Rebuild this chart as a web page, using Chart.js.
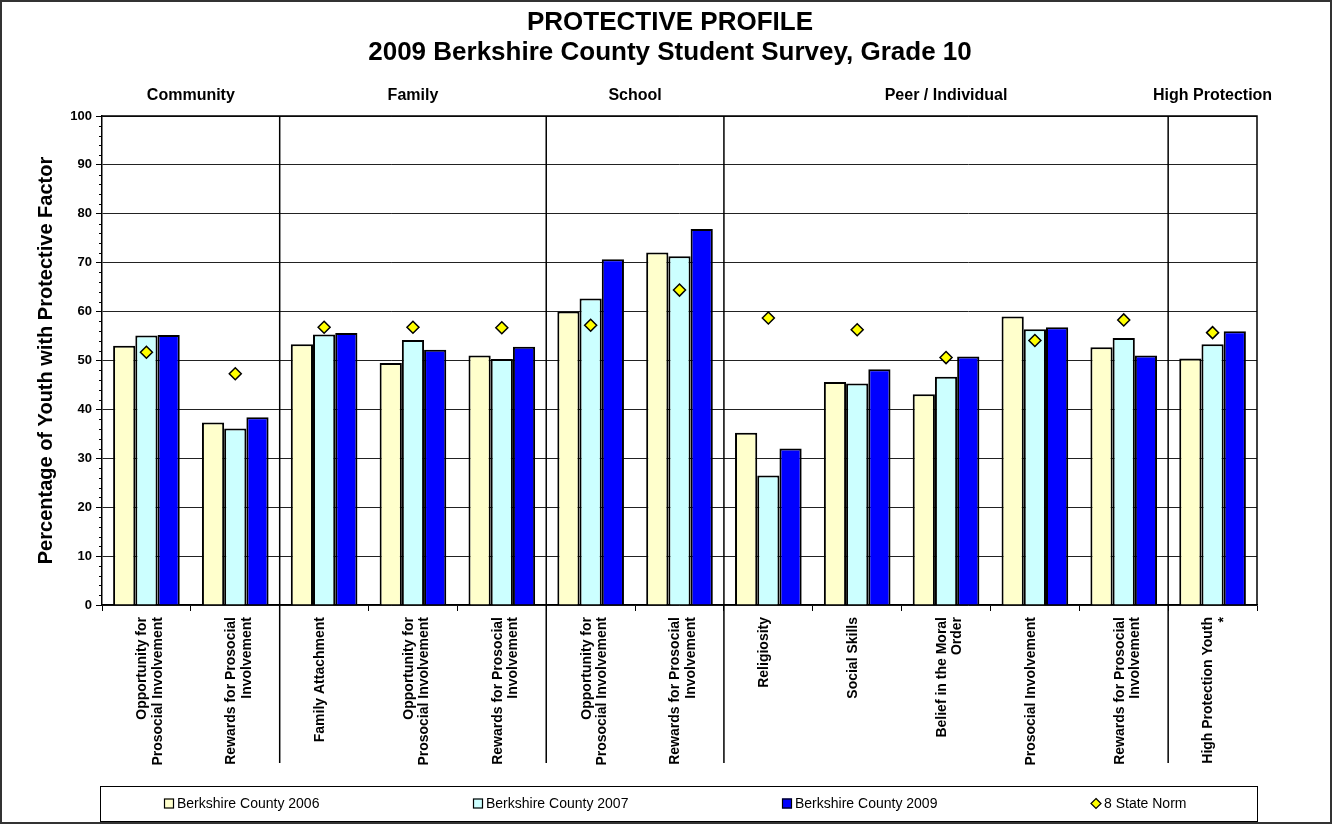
<!DOCTYPE html>
<html>
<head>
<meta charset="utf-8">
<title>Protective Profile</title>
<script src="https://cdn.jsdelivr.net/npm/chart.js@4.4.1/dist/chart.umd.min.js"></script>
<style>
  html, body { margin: 0; padding: 0; background: #fff; }
  #wrap { width: 1332px; height: 824px; }
</style>
</head>
<body>
<div id="wrap"><canvas id="myChart" width="1332" height="824"></canvas></div>
<script>
var categories = [
    ['Opportunity for', 'Prosocial Involvement'],
    ['Rewards for Prosocial', 'Involvement'],
    'Family Attachment',
    ['Opportunity for', 'Prosocial Involvement'],
    ['Rewards for Prosocial', 'Involvement'],
    ['Opportunity for', 'Prosocial Involvement'],
    ['Rewards for Prosocial', 'Involvement'],
    'Religiosity',
    'Social Skills',
    ['Belief in the Moral', 'Order'],
    'Prosocial Involvement',
    ['Rewards for Prosocial', 'Involvement'],
    ['High Protection Youth', '*']
];

var groupNames = ['Community', 'Family', 'School', 'Peer / Individual', 'High Protection'];
var groupSizes = [2, 3, 2, 5, 1];

var seriesNames = ['Berkshire County 2006', 'Berkshire County 2007', 'Berkshire County 2009', '8 State Norm'];

var county2006 = [53.0, 37.3, 53.3, 49.5, 51.0, 60.0, 72.1, 35.2, 45.6, 43.1, 59.0, 52.7, 50.4];
var county2007 = [55.1, 36.1, 55.3, 54.2, 50.3, 62.7, 71.3, 26.5, 45.3, 46.7, 56.4, 54.6, 53.3];
var county2009 = [55.2, 38.4, 55.6, 52.2, 52.8, 70.7, 76.9, 32.0, 48.2, 50.8, 56.8, 51.0, 56.0];
var stateNorm  = [51.7, 47.3, 56.8, 56.8, 56.7, 57.2, 64.4, 58.7, 56.3, 50.6, 54.1, 58.3, 55.7];

var yMin = 0, yMax = 100, yStep = 10, yMinorStep = 2;

var FONT = "'Liberation Sans', Arial, Helvetica, sans-serif";
Chart.defaults.font.family = FONT;
Chart.defaults.color = '#000';

// extra drawing: plot frame, minor ticks, group dividers + names, boxed legend, outer border
var extrasPlugin = {
    id: 'extras',
    beforeDraw: function(chart) {
        var ctx = chart.ctx;
        ctx.save();
        ctx.fillStyle = '#fff';
        ctx.fillRect(0, 0, chart.width, chart.height);
        ctx.restore();
    },
    afterDraw: function(chart) {
        var ctx = chart.ctx;
        var area = chart.chartArea;
        var xs = chart.scales.x;
        var ys = chart.scales.y;
        ctx.save();

        // minor ticks on the value axis
        ctx.strokeStyle = '#000';
        ctx.lineWidth = 1;
        for (var v = yMin; v <= yMax; v += yMinorStep) {
            if (v % yStep === 0) continue;
            var py = Math.round(ys.getPixelForValue(v)) + 0.5;
            ctx.beginPath();
            ctx.moveTo(area.left - 3, py);
            ctx.lineTo(area.left, py);
            ctx.stroke();
        }

        // top and right edges of the plot
        ctx.lineWidth = 1.5;
        ctx.beginPath();
        ctx.moveTo(area.left, area.top);
        ctx.lineTo(area.right, area.top);
        ctx.lineTo(area.right, area.bottom);
        ctx.stroke();

        // group dividers and group names
        var start = 0;
        ctx.font = 'bold 16px ' + FONT;
        ctx.textAlign = 'center';
        ctx.textBaseline = 'middle';
        ctx.fillStyle = '#000';
        var half = (xs.getPixelForValue(1) - xs.getPixelForValue(0)) / 2;
        for (var g = 0; g < groupSizes.length; g++) {
            var end = start + groupSizes[g] - 1;
            var gl = xs.getPixelForValue(start) - half;
            var gr = xs.getPixelForValue(end) + half;
            ctx.fillText(groupNames[g], (gl + gr) / 2, area.top - 20);
            if (g < groupSizes.length - 1) {
                ctx.lineWidth = 1.5;
                ctx.beginPath();
                ctx.moveTo(gr, area.top);
                ctx.lineTo(gr, area.bottom + 158);
                ctx.stroke();
            }
            start = end + 1;
        }

        // legend box
        var lgTop = chart.height - 38;
        var lgBottom = chart.height - 3;
        ctx.lineWidth = 1;
        ctx.strokeStyle = '#000';
        ctx.strokeRect(area.left - 2 + 0.5, lgTop + 0.5, area.right - area.left + 2, lgBottom - lgTop);
        var lgY = (lgTop + lgBottom) / 2;
        var step = 309;
        var lx = area.left + 62;
        ctx.font = '14px ' + FONT;
        ctx.textAlign = 'left';
        chart.data.datasets.forEach(function(ds, i) {
            var bx = lx + i * step;
            ctx.fillStyle = ds.backgroundColor;
            ctx.strokeStyle = '#000';
            ctx.lineWidth = 1.2;
            if (ds.type === 'line') {
                ctx.beginPath();
                ctx.moveTo(bx + 5, lgY - 5);
                ctx.lineTo(bx + 10, lgY);
                ctx.lineTo(bx + 5, lgY + 5);
                ctx.lineTo(bx, lgY);
                ctx.closePath();
                ctx.fill();
                ctx.stroke();
            } else {
                ctx.fillRect(bx, lgY - 5, 10, 10);
                ctx.strokeRect(bx + 0.5, lgY - 4.5, 9, 9);
            }
            ctx.fillStyle = '#000';
            ctx.fillText(ds.label, bx + 13, lgY + 1);
        });

        // outer border
        ctx.lineWidth = 2;
        ctx.strokeStyle = '#333';
        ctx.strokeRect(1, 1, chart.width - 2, chart.height - 2);
        ctx.restore();
    }
};

var barBase = {
    borderColor: '#000',
    borderWidth: 2,
    categoryPercentage: 0.75,
    barPercentage: 1.0,
    order: 1
};

var config = {
    type: 'bar',
    data: {
        labels: categories,
        datasets: [
            Object.assign({ label: seriesNames[0], data: county2006, backgroundColor: '#FFFFCC' }, barBase),
            Object.assign({ label: seriesNames[1], data: county2007, backgroundColor: '#CCFFFF' }, barBase),
            Object.assign({ label: seriesNames[2], data: county2009, backgroundColor: '#0000FF' }, barBase),
            {
                type: 'line',
                label: seriesNames[3],
                data: stateNorm,
                showLine: false,
                pointStyle: 'rectRot',
                pointRadius: 6,
                pointBorderWidth: 1.5,
                backgroundColor: '#FFFF00',
                borderColor: '#000',
                order: 0
            }
        ]
    },
    plugins: [extrasPlugin],
    options: {
        responsive: false,
        animation: false,
        events: [],
        devicePixelRatio: 1,
        layout: {
            padding: { top: 0, left: 30, right: 22, bottom: 53 }
        },
        plugins: {
            legend: { display: false },
            tooltip: { enabled: false },
            title: {
                display: true,
                text: 'PROTECTIVE PROFILE',
                color: '#000',
                font: { size: 26, weight: 'bold', lineHeight: 1.0 },
                padding: { top: 10, bottom: 0 }
            },
            subtitle: {
                display: true,
                text: '2009 Berkshire County Student Survey, Grade 10',
                color: '#000',
                font: { size: 26, weight: 'bold', lineHeight: 1.0 },
                padding: { top: 4, bottom: 50 }
            }
        },
        scales: {
            x: {
                grid: {
                    offset: true,
                    drawOnChartArea: false,
                    tickLength: 6,
                    color: '#000'
                },
                border: { color: '#000', width: 1.5 },
                ticks: {
                    autoSkip: false,
                    maxRotation: 90,
                    minRotation: 90,
                    padding: 6,
                    labelOffset: -4,
                    color: '#000',
                    font: { size: 14, weight: 'bold', lineHeight: 1.1 }
                },
                afterFit: function(scale) {
                    scale.height = 166;
                }
            },
            y: {
                min: yMin,
                max: yMax,
                ticks: {
                    stepSize: yStep,
                    padding: 4,
                    color: '#000',
                    font: { size: 13, weight: 'bold' }
                },
                grid: {
                    color: '#222',
                    lineWidth: 1,
                    tickLength: 6,
                    tickColor: '#000'
                },
                border: { color: '#000', width: 1.5 },
                title: {
                    display: true,
                    text: 'Percentage of Youth with Protective Factor',
                    color: '#000',
                    font: { size: 20, weight: 'bold' },
                    padding: { top: 4, bottom: 10 }
                },
                afterFit: function(scale) {
                    scale.width = 72;
                }
            },
            // blank spacer on the right so the titles centre like the original
            spacer: {
                position: 'right',
                display: true,
                min: yMin,
                max: yMax,
                ticks: { display: false },
                grid: { drawOnChartArea: false, drawTicks: false },
                border: { display: false },
                afterFit: function(scale) {
                    scale.width = 53;
                }
            }
        }
    }
};

var myChart = new Chart(document.getElementById('myChart').getContext('2d'), config);
</script>
</body>
</html>
